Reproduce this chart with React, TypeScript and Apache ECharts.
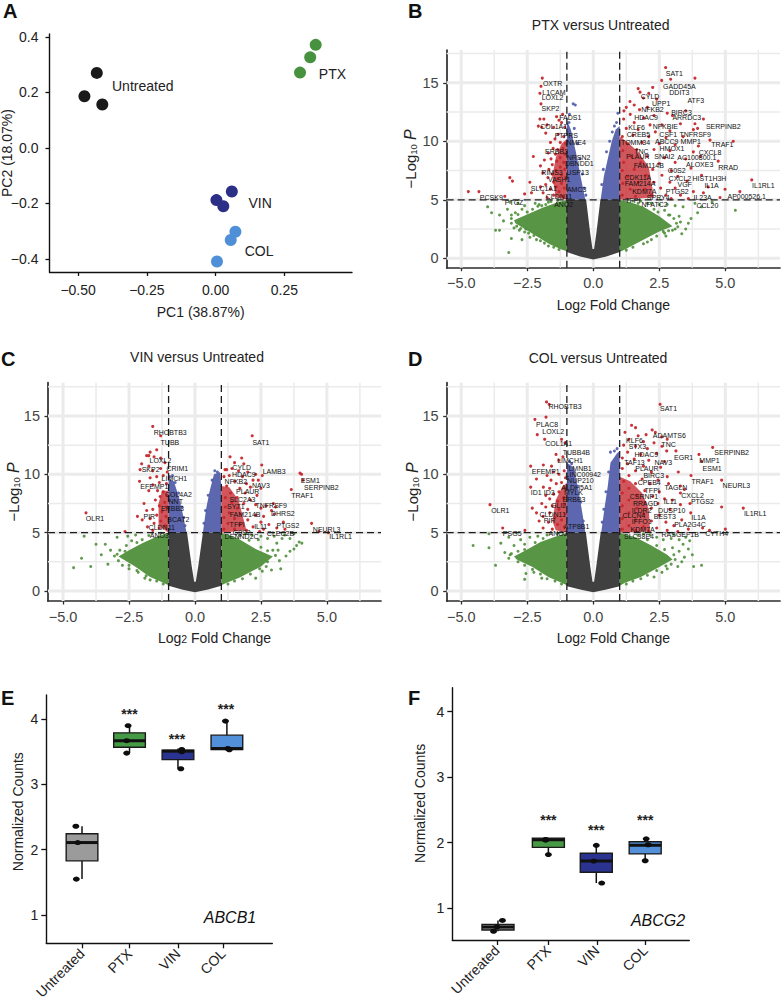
import React, { useEffect, useRef } from "react";
import * as echarts from "echarts";

const FONT = '"Liberation Sans", Arial, sans-serif';
const RED = "#c4282e", BLUE = "#4f5aa8", GREEN = "#4f8f3a", GREY = "#404040";

// ---------- Panel A ----------
const pcaUntreated = [[-0.432,0.270],[-0.477,0.186],[-0.412,0.156]];
const pcaPTX = [[0.364,0.371],[0.344,0.326],[0.307,0.271]];
const pcaVIN = [[0.059,-0.157],[0.003,-0.188],[0.028,-0.210]];
const pcaCOL = [[0.072,-0.302],[0.055,-0.332],[0.005,-0.409]];
const pcaLabels = ["Untreated","PTX","VIN","COL"];
const pcaLabelPos = [[-0.265,0.224],[0.425,0.265],[0.162,-0.2],[0.158,-0.37]];
const pcaXTicks = [-0.5,-0.25,0,0.25];
const pcaYTicks = [-0.4,-0.2,0,0.2,0.4];

// ---------- Volcano shared ----------
const xMajor = [-5,-2.5,0,2.5,5];
const xMinor = [-3.75,-1.25,1.25,3.75,6.25];
const yMajor = [0,5,10,15];
const yMinor = [2.5,7.5,12.5,17.5];

// ---------- Panel B ----------
const bGreyOutline = [[-1,5],[-0.27,5],[-0.12,2.2],[-0.03,0.8],[0.03,0.8],[0.12,2.2],[0.27,5],[1,5],[1,0.55],[0.5,0.15],[0,-0.1],[-0.5,0.15],[-1,0.55]];
const bBlueL = [[-1,5],[-1,11.8],[-0.85,11],[-0.65,9],[-0.48,7],[-0.3,5]];
const bBlueR = [[0.28,5],[0.4,7],[0.55,8.5],[0.7,10],[0.85,11],[1,11.3],[1,5]];
const bGreenL = [[-1,5],[-1.4,4.75],[-1.9,4.35],[-2.4,3.85],[-3,3.25],[-2.95,3.0],[-2.3,2.1],[-1.65,1.2],[-1.2,0.75],[-1,0.6]];
const bGreenR = [[1,5],[1.4,4.8],[1.9,4.4],[2.5,3.6],[3,2.75],[2.5,2.3],[1.77,1.43],[1.14,0.7],[1,0.55]];
const bRedCoreL = [[-1,5],[-1,10.2],[-1.2,9.8],[-1.42,8.6],[-1.55,7],[-1.42,5.2]];
const bRedCoreR = [[1,5],[1,10.4],[1.25,10],[1.7,9.1],[2.1,7.8],[2.2,6.5],[2.3,5.2]];
const bRed = [[-1.93,15.4],[-1.98,14.7],[-2.02,14.1],[-1.98,13.2],[-1.39,12.1],[-1.16,12.3],[-1.3,11.8],[-2.02,11.9],[-1.87,11.9],[-2.08,11.3],[-1.95,11.2],[-1.75,11.4],[-1.5,11.2],[-1.2,11.6],[-1.08,11.2],[-1.8,10.7],[-1.33,10.6],[-1.12,10.4],[-1.45,10.2],[-1.62,9.9],[-1.25,9.9],[-1.05,9.8],[-1.52,9.4],[-1.35,9.3],[-1.15,9.4],[-1.7,9.0],[-1.43,8.9],[-1.08,8.9],[-1.25,8.6],[-1.6,8.5],[-2.27,8.7],[-1.85,8.4],[-1.38,8.3],[-1.12,8.2],[-1.55,8.0],[-2.0,7.9],[-1.25,7.8],[-1.68,7.6],[-1.42,7.5],[-1.08,7.6],[-1.9,7.3],[-1.55,7.2],[-1.2,7.1],[-1.72,6.9],[-1.35,6.8],[-1.05,6.9],[-3.16,6.9],[-3.06,6.6],[-2.4,6.5],[-1.5,6.5],[-1.2,6.4],[-1.8,6.3],[-2.0,6.1],[-1.4,6.1],[-1.1,6.0],[-1.62,5.9],[-2.34,5.6],[-1.3,5.7],[-1.9,5.6],[-4.73,5.7],[-4.33,5.7],[-3.35,5.3],[-2.6,5.5],[-1.5,5.4],[-1.15,5.3],[-1.75,5.2],
[2.74,16.3],[2.93,15.3],[2.59,15.2],[3.85,15.4],[2.25,14.6],[1.7,14.5],[1.77,14.2],[2.1,14.1],[1.9,13.7],[1.39,13.4],[1.55,13.1],[2.4,13.6],[1.25,12.9],[1.16,12.6],[1.75,12.7],[2.05,12.9],[2.3,12.2],[2.8,12.4],[3.0,12.2],[3.5,12.6],[1.4,12.3],[1.9,12.0],[4.17,11.9],[3.3,11.5],[2.6,11.4],[1.15,11.9],[1.55,11.6],[2.15,11.4],[3.85,11.5],[3.79,11],[3.95,11.1],[2.9,10.9],[1.25,11.1],[1.7,11],[2.35,10.8],[4.42,10.1],[5.3,10],[3.4,10.4],[2.75,10.3],[2.1,10.4],[1.5,10.5],[1.1,10.4],[3.98,9.6],[3.1,9.7],[2.5,9.8],[1.85,9.9],[1.3,9.8],[3.79,9.1],[2.9,9.2],[2.3,9.3],[1.65,9.3],[1.12,9.2],[4.05,8.7],[3.5,8.5],[2.7,8.6],[2.05,8.7],[1.45,8.7],[4.73,8.3],[3.1,8.2],[2.5,8.1],[1.8,8.2],[1.15,8.2],[3.7,7.7],[2.95,7.5],[2.25,7.6],[1.55,7.6],[1.1,7.5],[4.1,7.1],[3.2,7.0],[2.6,7.1],[2,7.1],[1.3,7.0],[6,6.7],[3.55,6.6],[2.9,6.5],[2.3,6.5],[1.7,6.5],[1.12,6.4],[4.35,6.1],[3.1,6.0],[2.55,6.0],[1.95,5.9],[1.4,5.9],[4.99,5.9],[5.55,5.7],[4.17,5.6],[3.79,5.7],[3.3,5.4],[2.75,5.4],[2.2,5.4],[1.6,5.3],[1.1,5.4],[3.6,5.1],[2.95,5.1],[4.8,5.2]];
const bBlue = [[-0.76,13.2],[-0.68,13.1],[-0.9,12.3],[-0.92,11.6],[-0.72,11.1],[-0.6,9.8],[-0.5,8.5],[-0.42,7.2],[-0.35,6],[0.88,11.6],[0.8,11.3],[0.72,10.8],[0.62,10],[0.5,9.1],[0.38,7.6],[0.32,6.3],[0.93,12.4],[-0.28,5.4]];
const bGreen = [[-3.7,2.4],[-3.2,0.5],[-3.55,2.4],[-3.1,1.7],[-3.85,3.9],[-3.0,2.6],[-3.4,3.2],[-3.25,4.2],[-2.8,2.4],[-2.7,1.6],[-2.55,2.5],[-2.95,3.9],[-2.6,4.5],[-2.2,4.7],[-2.4,1.8],[-2.15,1.6],[-2.05,4.6],[-1.85,1.3],[-1.7,4.8],[-3.15,4.8],[-2.85,4.7],[-4.0,4.4],[-1.5,0.95],[-1.35,4.95],[-3.55,3.7],[-1.6,4.85],[-1.8,4.6],[-1.95,4.5],[-2.1,4.45],[-2.3,4.2],[-2.5,3.95],[-2.7,4.2],[-2.85,3.75],[-3.1,3.4],[-3.1,3.0],[-2.75,2.55],[-2.45,2.15],[-2.25,1.95],[-2.0,1.5],[-1.7,1.05],[-1.3,0.75],[-3.1,3.7],[-2.6,2.25],[-2.9,2.75],
[3.35,2.1],[5.38,4.1],[2.65,2.3],[2.75,1.9],[3.2,2.7],[3.5,2.5],[3.7,3.4],[3.95,3.9],[4.1,4.4],[3.4,4.4],[3.1,4.5],[2.8,4.6],[2.5,4.6],[2.2,4.7],[3.6,3.0],[3.25,3.6],[2.9,3.7],[1.8,4.9],[4.5,4.8],[3.85,4.7],[2.4,1.9],[2.05,1.4],[1.5,4.9],[1.7,4.7],[2.05,4.7],[2.3,4.2],[2.45,3.95],[2.7,4.1],[2.85,3.7],[3.05,3.4],[3.15,3.0],[3.0,2.4],[2.7,2.15],[2.2,1.6],[1.9,1.25],[1.5,0.95],[1.25,0.7],[3.3,3.1],[2.85,2.35],[3.1,2.5]];
const bGeneNames = ["SAT1","GADD45A","DDIT3","ATF3","CYLD","UPP1","NFKB2","BIRC3","ARRDC3","HDAC9","OXTR","L1CAM","LOXL2","SKP2","FADS1","COL1A1","KLF6","NFKBIE","SERPINB2","CREB5","CSF1","TNFRSF9","PTPRS","NME4","TOMM34","ABCC9","MMP1","TRAF1","HMOX1","TNC","CXCL8","ERBB3","NRSN2","PLAUR","SNAI2","AC100800.1","DBNDD1","ALOXE3","FAM114B","RRAD","USP13","RIMS3","VASH1","G0S2","CDK11A","CXCL2","HIST1H3H","FAM214A","IL1A","IL1RL1","VGF","SLC1A1","AMC3","KDM7A","PTGS2","CLDN11","AP000526.1","PCSK9","IL23A","SPRY4","TFPI","PTGZ","ANO2","NFATC2","CCL20"];
const bGenePos = [[3.07,15.8],[3.26,14.7],[3.26,14.2],[3.88,13.5],[2.15,13.8],[2.57,13.2],[2.24,12.7],[3.34,12.5],[3.54,12],[2,12],[-1.54,14.9],[-1.49,14.2],[-1.54,13.7],[-1.62,12.8],[-0.87,12],[-1.5,11.3],[1.64,11.2],[2.73,11.3],[4.92,11.3],[1.71,10.6],[2.84,10.6],[3.86,10.6],[-1.02,10.5],[-0.65,9.9],[1.6,9.9],[2.78,10],[3.69,10],[4.89,9.7],[2.98,9.4],[1.82,9.1],[4.42,9],[-1.39,9.1],[-0.56,8.6],[1.69,8.7],[2.69,8.7],[3.92,8.6],[-0.53,8.1],[4.03,8],[2.1,7.9],[5.11,7.8],[-0.59,7.3],[-1.56,7.3],[-1.29,6.7],[3.16,7.5],[1.69,6.9],[3.28,6.8],[4.4,6.8],[1.77,6.4],[4.48,6.2],[6.44,6.2],[3.46,6.3],[-1.87,6.0],[-0.63,5.9],[1.93,5.7],[3.18,5.7],[-1.3,5.3],[5.81,5.3],[-3.86,5.17],[4.14,5.17],[2.46,5.17],[1.5,4.9],[-3.0,4.8],[-1.12,4.6],[2.32,4.6],[4.32,4.5]];

// ---------- Panel C ----------
const cGreyOutline = [[-1,5],[-0.3,5],[-0.13,2.2],[-0.03,0.8],[0.03,0.8],[0.13,2.2],[0.3,5],[1,5],[1,0.45],[0.5,0.12],[0,-0.1],[-0.5,0.12],[-1,0.45]];
const cBlueL = [[-1,5],[-1,9.6],[-0.8,9.4],[-0.6,8],[-0.45,6.5],[-0.32,5]];
const cBlueR = [[0.3,5],[0.42,7],[0.55,8.5],[0.72,10],[0.95,10.2],[1,9],[1,5]];
const cGreenL = [[-1,5],[-1.5,4.6],[-2.0,4.1],[-2.5,3.5],[-2.9,2.95],[-2.3,2.15],[-1.7,1.2],[-1.2,0.7],[-1,0.5]];
const cGreenR = [[1,5],[1.6,4.55],[2.3,3.6],[2.95,2.95],[2.5,2.1],[1.7,1.15],[1.2,0.7],[1,0.5]];
const cRedCoreL = [[-1,5],[-1,8.6],[-1.25,8.6],[-1.38,7.5],[-1.38,5.6]];
const cRedCoreR = [[1,5],[1,9],[1.3,8.9],[1.65,7.8],[1.8,6.5],[1.95,5.2]];
const cRed = [[-1.6,14.1],[-1.3,13.3],[-1.7,11.9],[-1.45,12.1],[-1.75,11.6],[-1.83,11.6],[-1.55,11.5],[-1.3,11.4],[-2.02,10.9],[-1.14,11],[-2.08,10.4],[-1.6,10.3],[-1.75,10.7],[-1.3,10.5],[-1.05,10.2],[-1.45,9.8],[-1.2,9.9],[-1.7,9.7],[-2.1,9.4],[-1.35,9.3],[-1.08,9.2],[-1.6,9.1],[-1.42,8.6],[-1.2,8.5],[-1.75,8.6],[-1.05,8.2],[-1.32,8.1],[-1.5,7.8],[-1.15,7.6],[-1.93,7.5],[-1.35,7.3],[-1.08,7.2],[-1.6,7.0],[-1.83,6.9],[-1.25,6.8],[-1.45,6.5],[-1.1,6.4],[-2.18,6.4],[-2,6.1],[-1.7,6.2],[-1.3,6.0],[-1.55,5.8],[-1.12,5.6],[-1.8,5.5],[-1.35,5.4],[-1.6,5.2],[-2.65,5.1],[-4.13,6.7],
[2.17,13.3],[2.53,10.8],[1.33,11.5],[1.77,11.4],[1.14,10.4],[1.2,10.4],[1.5,11],[1.85,10.9],[1.4,10.5],[1.65,10.3],[2,10.2],[2.3,10],[2.55,9.9],[1.1,9.8],[1.3,9.9],[1.8,9.8],[2.2,9.5],[2.4,9.5],[1.5,9.4],[1.95,9.2],[2.1,8.9],[2.5,8.8],[1.2,9],[1.7,8.8],[1.35,8.4],[1.9,8.4],[2.35,8.2],[1.15,8],[1.6,8.0],[2.1,7.8],[2.7,7.3],[2.97,7.5],[3.05,7.2],[1.4,7.6],[1.85,7.5],[2.3,7.4],[2.5,7.1],[1.15,7.2],[1.6,7.1],[2,7],[2.9,6.9],[3,6.6],[1.3,6.7],[1.75,6.6],[2.3,6.5],[2.6,6.4],[1.1,6.3],[1.5,6.2],[2,6.1],[2.5,5.9],[2.8,5.7],[3.35,5.9],[1.25,5.8],[1.7,5.7],[2.2,5.5],[2.6,5.3],[3.1,5.4],[3.41,5.3],[1.1,5.3],[1.5,5.3],[1.95,5.2],[2.45,5.1],[3.65,8.7],[3.98,10.1],[4.04,10],[4.1,9.5],[4.42,5.8],[5.05,5],[4.7,5.1]];
const cBlue = [[-0.85,9.9],[-0.95,9.8],[-0.75,9.3],[-0.62,8.4],[-0.5,7.2],[-0.42,6.3],[-0.38,5.6],[0.75,10.3],[0.85,10.2],[0.65,9.5],[0.5,8.2],[0.4,6.9],[0.34,5.8]];
const cGreen = [[-4.6,2.0],[-4.3,2.8],[-3.95,2.1],[-3.55,3.1],[-3.4,4.0],[-3.75,4.0],[-4.2,4.7],[-3.2,3.5],[-3.05,3.0],[-2.85,3.5],[-3.3,2.3],[-2.75,2.2],[-2.5,1.9],[-2.95,4.6],[-2.55,4.7],[-2.25,4.8],[-2.15,1.6],[-2.4,4.3],[-2.6,3.9],[-1.9,1.1],[-1.7,0.95],[-1.75,4.75],[-1.3,4.95],[-2.9,2.6],[-2.0,4.4],[-2.2,4.15],[-2.65,3.4],[-2.95,3.15],[-2.5,2.2],[-2.2,1.75],[-1.85,1.3],[-1.45,0.85],[-1.2,0.6],
[2.3,1.1],[2.55,1.7],[2.7,2.1],[2.9,1.8],[3.2,2.6],[3.25,1.9],[3.45,3.0],[3.15,3.5],[3.6,3.4],[3.75,3.6],[3.85,3.9],[3.95,4.2],[3.6,4.5],[3.3,4.5],[3.1,4.1],[3.4,4.8],[3.0,4.7],[2.75,4.5],[2.5,4.7],[4.05,4.1],[2.4,4.4],[2.15,4.8],[3.75,4.9],[1.9,4.9],[1.7,4.75],[2.05,4.35],[2.5,3.75],[2.75,3.45],[3.05,3.05],[2.75,2.5],[2.45,1.9],[2.1,1.45],[1.8,1.05],[1.5,0.85],[1.25,0.6],[2.95,3.5]];
const cGeneNames = ["RHOBTB3","TUBB","SAT1","LOXL2","SKP2","CRIM1","CYLD","LAMB3","HDAC9","LIMCH1","ESM1","NFKB2","NAV3","SERPINB2","EFEMP1","PLAUR","COL4A2","TRAF1","NNT","SLC2A3","SYT1","TNFRSF9","ERBB3","FAM214B","DHRS2","OLR1","PIR","BCAT2","TFPI","PTGS2","IL11","CLDN11","NEURL3","G0S2","CLEC2B","ANO3","DENND2C","IL1RL1"];
const cGenePos = [[-0.94,13.6],[-0.95,12.7],[2.5,12.7],[-1.31,11.2],[-1.68,10.4],[-0.67,10.5],[1.77,10.6],[3,10.25],[1.85,10],[-0.78,9.65],[4.37,9.5],[1.55,9.4],[2.5,9],[4.79,8.85],[-1.54,8.97],[2,8.5],[-0.63,8.3],[4.07,8.2],[-0.73,7.7],[1.8,7.85],[1.55,7.25],[2.89,7.3],[-0.85,7.05],[1.9,6.55],[3.33,6.63],[-3.79,6.23],[-1.73,6.35],[-0.63,6.1],[1.6,5.66],[3.52,5.63],[2.49,5.5],[-1.26,5.43],[4.99,5.29],[1.77,5.0],[3.24,4.94],[-1.35,4.77],[1.77,4.66],[5.52,4.63]];

// ---------- Panel D ----------
const dGreyOutline = [[-1,5],[-0.28,5],[-0.12,2.2],[-0.03,0.8],[0.03,0.8],[0.12,2.2],[0.28,5],[1,5],[1,0.4],[0.5,0.12],[0,-0.1],[-0.5,0.12],[-1,0.4]];
const dBlueL = [[-1,5],[-1,11],[-0.75,10.6],[-0.55,8.5],[-0.4,6.5],[-0.3,5]];
const dBlueR = [[0.3,5],[0.45,7.5],[0.55,9],[0.65,11],[0.9,11.8],[1,12],[1,5]];
const dGreenL = [[-1,5],[-1.5,4.6],[-2.0,4.2],[-2.5,3.55],[-3,2.95],[-2.9,2.7],[-2.3,2.05],[-1.7,1.2],[-1.2,0.7],[-1,0.5]];
const dGreenR = [[1,5],[1.6,4.6],[2.2,3.9],[2.8,3.1],[3.0,2.7],[2.5,2.05],[1.8,1.2],[1.2,0.7],[1,0.45]];
const dRedCoreL = [[-1,5],[-1,9.3],[-1.18,8.9],[-1.42,7.8],[-1.55,6],[-1.42,5.2]];
const dRedCoreR = [[1,5],[1,9.8],[1.4,9.4],[1.85,8.4],[2.1,7],[2.15,5.1]];
const dRed = [[-1.77,16.2],[-1.67,16],[-2.21,14.7],[-1.79,14.9],[-2.12,13.4],[-1.84,13],[-1.2,13],[-1.07,12.7],[-1.41,11.7],[-2.37,10.7],[-1.89,10.8],[-1.58,10.7],[-1.3,11.2],[-1.15,11.5],[-1.5,10.2],[-1.1,10.3],[-1.75,9.9],[-1.3,10],[-2.15,9.6],[-1.6,9.5],[-1.05,9.7],[-1.4,9.2],[-1.2,9.3],[-2.37,8.9],[-1.89,8.9],[-1.65,8.8],[-1.08,8.8],[-1.3,8.5],[-1.5,8.3],[-1.8,8.2],[-1.12,8],[-1.65,7.9],[-1.35,7.7],[-1.95,7.5],[-1.1,7.4],[-1.55,7.3],[-2.31,7.1],[-1.8,7.2],[-1.3,7],[-2.15,6.7],[-1.65,6.7],[-1.05,6.6],[-1.9,6.4],[-1.45,6.3],[-1.2,6.1],[-2.05,6],[-1.7,5.9],[-1.35,5.7],[-1.1,5.5],[-1.9,5.4],[-1.55,5.3],[-3.91,7.4],[-3.43,5.4],[-2.59,5.2],
[2.53,16],[1.45,14.2],[2.23,13.8],[2.59,13.2],[1.6,14],[1.2,13.6],[1.7,13.3],[2,13.4],[2.35,13.6],[2.8,13],[1.35,13],[1.9,12.8],[2.3,12.7],[1.15,12.5],[1.6,12.4],[2.6,12.4],[2.05,12.2],[4.52,12.3],[2.78,12],[3.13,12],[1.3,11.9],[1.8,11.7],[2.4,11.8],[4,11.7],[1.1,11.4],[1.55,11.3],[2.1,11.2],[2.7,11.1],[4.1,11.1],[1.3,10.9],[1.9,10.7],[2.55,10.6],[3.22,10.2],[1.1,10.5],[1.6,10.3],[2.2,10.2],[2.8,9.8],[3.7,9.9],[1.35,9.9],[1.85,9.6],[2.45,9.5],[4.86,9.5],[1.15,9.4],[1.6,9.2],[2.15,9.2],[2.85,9.2],[3.3,9],[3.45,8.7],[1.35,8.8],[1.95,8.6],[2.5,8.5],[3.3,8.4],[1.1,8.4],[1.65,8.2],[2.25,8.1],[2.7,7.9],[3.0,7.8],[1.35,7.8],[1.95,7.6],[2.45,7.5],[3.66,7.5],[3.3,7.4],[1.1,7.3],[1.65,7.1],[2.2,7.1],[2.9,7],[4.86,7.2],[5.68,7.1],[1.35,6.7],[1.9,6.6],[2.5,6.5],[3.69,6.7],[3.35,6.1],[1.1,6.2],[1.6,6.1],[2.2,6],[2.75,5.9],[3.05,5.6],[1.35,5.6],[1.9,5.5],[2.4,5.4],[4.14,5.4],[5,5.3],[1.1,5.3],[1.6,5.2],[2.1,5.1],[2.8,5.2],[3.6,5.3],[4.4,5.2],[3.2,5.1]];
const dBlue = [[-0.82,10.9],[-0.9,11.1],[-0.72,10.2],[-0.6,9],[-0.48,7.6],[-0.38,6],[-0.95,10.7],[0.65,11.9],[0.8,12],[0.9,12.2],[0.58,10.2],[0.48,8.5],[0.4,7],[0.34,5.9]];
const dGreen = [[-4.55,3.9],[-3.95,4.9],[-3.7,2.2],[-3.95,3.7],[-3.35,3.3],[-3.5,4.1],[-3.15,3.1],[-3.0,3.9],[-2.85,3.4],[-2.6,1.0],[-2.85,2.5],[-2.55,1.5],[-2.75,4.4],[-2.4,4.6],[-2.1,4.7],[-2.25,1.6],[-1.95,1.1],[-1.75,4.8],[-3.2,4.6],[-1.35,4.95],[-2.6,4.0],[-3.2,2.8],[-1.9,4.5],[-2.2,4.15],[-2.6,3.55],[-3.1,3.2],[-2.6,2.2],[-2.3,1.85],[-2.0,1.45],[-1.75,1.05],[-1.45,0.85],[-1.2,0.6],
[2.3,1.2],[2.6,1.6],[2.8,1.9],[2.95,2.3],[3.2,2.1],[3.35,2.5],[4.1,2.2],[3.8,2.1],[3.45,2.9],[3.25,3.4],[3.6,3.6],[3.4,4.0],[3.65,4.3],[3.25,4.4],[2.95,4.5],[2.65,4.4],[2.4,4.6],[2.15,4.8],[3.0,3.7],[3.5,4.6],[3.05,4.85],[1.9,4.9],[3.75,3.1],[1.7,4.75],[2.05,4.4],[2.4,3.9],[2.7,3.55],[3.05,3.1],[3.1,2.7],[2.75,2.15],[2.4,1.75],[2.05,1.35],[1.8,1.05],[1.5,0.85],[1.25,0.6]];
const dGeneNames = ["SAT1","RHOBTB3","PLAC8","LOXL2","ADAMTS6","KLF6","TNC","COL1A1","STX3","SERPINB2","TUBB4B","HDAC9","EGR1","MMP1","LIMCH1","TAF13","NAV3","LMNB1","ESM1","PLAUR","EFEMP1","LINC00942","BIRC3","NUP210","TRAF1","CPEB4","NEURL3","TAGLN","ALDH5A1","TFPI","ID1","ID3","MYLK","CXCL2","CSRNP1","ERBB3","IL11","PTGS2","RRAGD","GLI2","ILDR2","DUSP10","OLR1","CLCN4","BEST3","CLDN11","IL1A","IL1RL1","PIR","IFFO1","PLA2G4C","ATP8B1","KDM7A","RASGEF1B","CYTH4","PSG5","ANO2","SLC38E4"];
const dGenePos = [[2.85,15.6],[-1.07,15.77],[-1.75,14.23],[-1.52,13.66],[2.88,13.29],[1.56,12.89],[2.85,12.57],[-1.31,12.63],[1.67,12.37],[5.24,11.83],[-0.64,11.83],[2.01,11.69],[3.42,11.46],[4.4,11.2],[-0.88,11.2],[1.56,11],[2.65,11.03],[-0.5,10.54],[4.5,10.49],[2.03,10.46],[-1.8,10.26],[-0.38,9.97],[2.29,9.89],[-0.49,9.43],[4.14,9.37],[2.12,9.31],[5.42,9.0],[3.13,8.89],[-0.62,8.89],[2.23,8.63],[-2.16,8.43],[-1.67,8.43],[-0.75,8.43],[3.76,8.17],[1.92,8.06],[-0.73,7.8],[2.92,7.66],[4.13,7.63],[1.98,7.46],[-1.31,7.34],[1.83,6.91],[2.97,6.89],[-3.52,6.86],[1.54,6.46],[2.71,6.37],[-1.54,6.54],[3.98,6.26],[6.13,6.6],[-1.65,6.0],[1.83,5.97],[3.66,5.66],[-0.63,5.51],[1.87,5.23],[3.29,4.86],[4.67,4.97],[-3.07,4.97],[-1.33,4.94],[1.73,4.66]];

// ---------- Panels E, F ----------
const boxCategories = ["Untreated","PTX","VIN","COL"];
const boxColors = ["#9b9b9b","#479a45","#2a3390","#5291da"];
// position, whisker low, q1, median, q3, whisker high
const eBoxes = [[1,1.55,1.83,2.11,2.245,2.36],[2,3.48,3.57,3.67,3.79,3.90],[3.02,3.24,3.38,3.51,3.525,3.55],[4.05,3.53,3.535,3.55,3.755,3.97]];
const ePoints = [[0.87,2.36],[0.91,2.11],[0.88,1.55],[1.97,3.90],[1.94,3.67],[1.94,3.48],[3.1,3.535],[3.1,3.50],[3.08,3.24],[4.02,3.97],[4.07,3.55],[4.1,3.53]];
const eTicks = [1,2,3.02,3.97];
const eStars = [[2,4.08],[3,3.70],[4.03,4.15]];
const fBoxes = [[1.02,0.65,0.668,0.715,0.755,0.815],[2.04,1.82,1.93,2.045,2.07,2.07],[3.01,1.385,1.55,1.72,1.84,1.97],[4,1.725,1.83,1.96,2.015,2.07]];
const fPoints = [[1.11,0.815],[0.93,0.65],[1,0.715],[1.985,2.05],[2.04,1.82],[1.985,2.04],[3.01,1.96],[2.96,1.72],[3.12,1.385],[4.02,2.06],[4.06,1.97],[4,1.725]];
const fTicks = [1,2.04,3.02,4];
const fStars = [[2.04,2.34],[3.01,2.19],[4,2.34]];

const signed = (v: number, d: number) => (v < 0 ? "\u2212" : "") + Math.abs(v).toFixed(d);

function makeAxis(kind: string, gridIndex: number, min: number, max: number, ticks: number[], fmt: (v: number) => string, o: any = {}) {
  return {
    type: "value", gridIndex, min, max, scale: true,
    axisLine: { show: true, onZero: false, lineStyle: { color: o.color || "#111", width: o.lineWidth || 1.4 } },
    axisTick: { show: true, customValues: ticks, length: o.tickLength || 4, lineStyle: { color: o.color || "#111", width: 1.3 } },
    axisLabel: { show: true, customValues: ticks, formatter: fmt, fontSize: o.fontSize || 14, color: o.labelColor || "#222", margin: o.margin ?? 7, rotate: o.rotate || 0, fontFamily: FONT, hideOverlap: false, showMinLabel: true, showMaxLabel: true },
    splitLine: { show: false }, minorTick: { show: false },
    name: o.name, nameLocation: "middle", nameGap: o.nameGap, nameMoveOverlap: false,
    nameTextStyle: { fontSize: o.nameSize || 14, color: "#222", fontFamily: FONT, padding: o.namePadding || 0, rich: o.rich },
  };
}

function polygonSeries(idx: number, pts: number[][], fill: string, opacity: number, z: number) {
  return {
    type: "custom", coordinateSystem: "cartesian2d", xAxisIndex: idx, yAxisIndex: idx, silent: true, z,
    data: pts, encode: { x: 0, y: 1 },
    renderItem: (p: any, api: any) => p.dataIndex !== 0 ? null : ({
      type: "polygon", shape: { points: pts.map((q) => api.coord(q)) }, style: { fill, opacity },
    }),
  };
}

function lineSeries(idx: number, axis: "x" | "y", values: number[], lo: number, hi: number, style: any, z: number) {
  return {
    type: "custom", coordinateSystem: "cartesian2d", xAxisIndex: idx, yAxisIndex: idx, silent: true, z,
    data: values.map((v) => (axis === "x" ? [v, lo] : [lo, v])), encode: { x: 0, y: 1 },
    renderItem: (p: any, api: any) => {
      const v = values[p.dataIndex];
      const a = api.coord(axis === "x" ? [v, lo] : [lo, v]);
      const b = api.coord(axis === "x" ? [v, hi] : [hi, v]);
      return { type: "line", shape: { x1: a[0], y1: a[1], x2: b[0], y2: b[1] }, style: { fill: null, ...style } };
    },
  };
}

function textSeries(idx: number, pos: number[][], names: string[], font: string, fill: string, z: number) {
  return {
    type: "custom", coordinateSystem: "cartesian2d", xAxisIndex: idx, yAxisIndex: idx, silent: true, z,
    data: pos, encode: { x: 0, y: 1 },
    renderItem: (p: any, api: any) => {
      const c = api.coord(pos[p.dataIndex]);
      return { type: "text", x: c[0], y: c[1], style: { text: names[p.dataIndex], font, fill, align: "center", verticalAlign: "middle" } };
    },
  };
}

const pts = (idx: number, data: number[][], color: string, size: any, z: number, opacity = 1) => ({
  type: "scatter", xAxisIndex: idx, yAxisIndex: idx, data, symbolSize: size, silent: true, z,
  itemStyle: { color, opacity },
});

function volcano(idx: number, xr: number[], yr: number[], d: any) {
  const gridStyle = (w: number) => ({ stroke: "#ebebeb", lineWidth: w });
  const dash = { stroke: "#1c1c1c", lineWidth: 1.3, lineDash: [7, 4] };
  return [
    lineSeries(idx, "x", xMinor, yr[0], yr[1], gridStyle(1.5), 1),
    lineSeries(idx, "y", yMinor, xr[0], xr[1], gridStyle(1.5), 1),
    lineSeries(idx, "x", xMajor, yr[0], yr[1], gridStyle(3), 1),
    lineSeries(idx, "y", yMajor, xr[0], xr[1], gridStyle(3), 1),
    polygonSeries(idx, d.greenL, GREEN, 0.95, 2),
    polygonSeries(idx, d.greenR, GREEN, 0.95, 2),
    polygonSeries(idx, d.blueL, BLUE, 0.92, 2),
    polygonSeries(idx, d.blueR, BLUE, 0.92, 2),
    polygonSeries(idx, d.redL, RED, 0.78, 2),
    polygonSeries(idx, d.redR, RED, 0.78, 2),
    polygonSeries(idx, d.grey, GREY, 1, 3),
    pts(idx, d.green, GREEN, 3, 4, 0.9),
    pts(idx, d.blue, BLUE, 3, 4, 0.9),
    pts(idx, d.red, RED, 3.1, 4, 0.95),
    lineSeries(idx, "x", [-1, 1], yr[0], yr[1], dash, 5),
    lineSeries(idx, "y", [5], xr[0], xr[1], dash, 5),
    textSeries(idx, d.genePos, d.genes, `7px ${FONT}`, "#111", 6),
  ];
}

const yRich = { s: { fontSize: 9.5, padding: [6, 0, 0, 0], color: "#222", fontFamily: FONT }, i: { fontSize: 16, fontStyle: "italic", color: "#222", fontFamily: FONT } };
const xRich = { s: { fontSize: 10.5, padding: [2, 0, 0, 0], color: "#222", fontFamily: FONT } };

function volcanoAxes(idx: number, xr: number[], yr: number[], yGap: number) {
  const common = { color: "#2b2b2b", lineWidth: 1.7, fontSize: 14.5, labelColor: "#444", tickLength: 3.5, margin: 8 };
  return {
    x: makeAxis("x", idx, xr[0], xr[1], xMajor, (v) => signed(v, 1), { ...common, name: "Log{s|2} Fold Change", nameGap: 30, nameSize: 14, rich: xRich }),
    y: makeAxis("y", idx, yr[0], yr[1], yMajor, (v) => String(v), { ...common, name: "\u2212Log{s|10} {i|P}", nameGap: yGap, nameSize: 15, rich: yRich }),
  };
}

function boxSeries(idx: number, boxes: number[][], width: number) {
  return {
    type: "custom", coordinateSystem: "cartesian2d", xAxisIndex: idx, yAxisIndex: idx, silent: true, z: 3,
    data: boxes, encode: { x: 0, y: [1, 5] },
    renderItem: (p: any, api: any) => {
      const b = boxes[p.dataIndex];
      const c = (v: number) => api.coord([b[0], v]);
      const half = api.size([width, 0])[0] / 2;
      const [cx] = c(b[3]);
      const line = (a: number, e: number, w: number, x1 = cx, x2 = cx) => ({
        type: "line", shape: { x1, y1: c(a)[1], x2, y2: c(e)[1] }, style: { stroke: "#111", lineWidth: w },
      });
      return {
        type: "group",
        children: [
          line(b[1], b[2], 1.5),
          line(b[4], b[5], 1.5),
          { type: "rect", shape: { x: cx - half, y: c(b[4])[1], width: 2 * half, height: c(b[2])[1] - c(b[4])[1] }, style: { fill: boxColors[p.dataIndex], stroke: "#1a1a1a", lineWidth: 1.4 } },
          line(b[3], b[3], 3, cx - half, cx + half),
        ],
      };
    },
  };
}

const panelLetters = [["A",3,11],["B",408,11],["C",1,359],["D",408,359],["E",1,698],["F",408,698]] as const;
const panelTitles = [["PTX versus Untreated",600.7,25],["VIN versus Untreated",197,357],["COL versus Untreated",598,358]] as const;
const geneTitles = [["ABCB1",230,917],["ABCG2",658,920]] as const;

export default function App() {
  const ref = useRef<HTMLDivElement>(null);
  useEffect(() => {
    const chart = echarts.init(ref.current!, undefined, { renderer: "svg" });
    const rB = { x: [-5.55, 7.07], y: [-0.8, 17.8] };
    const rC = { x: [-5.57, 7.05], y: [-0.857, 17.85] };
    const rD = { x: [-5.55, 7.07], y: [-0.857, 17.85] };
    const aB = volcanoAxes(1, rB.x, rB.y, 28);
    const aC = volcanoAxes(2, rC.x, rC.y, 26.5);
    const aD = volcanoAxes(3, rD.x, rD.y, 26.5);
    const boxOpts = { lineWidth: 1.4, fontSize: 14, tickLength: 5, margin: 8 };
    const catFmt = (v: number) => boxCategories[Math.round(v) - 1] ?? "";
    const intFmt = (v: number) => String(v);

    const option: any = {
      animation: false,
      backgroundColor: "#fff",
      textStyle: { fontFamily: FONT },
      grid: [
        { left: 49.5, top: 34, width: 302.5, height: 238, outerBoundsMode: "none" },
        { left: 446.7, top: 50, width: 333.3, height: 217.7, outerBoundsMode: "none" },
        { left: 48, top: 382.7, width: 333, height: 218.3, outerBoundsMode: "none" },
        { left: 446.7, top: 382.7, width: 333.3, height: 218.3, outerBoundsMode: "none" },
        { left: 46.3, top: 695, width: 226, height: 248.3, outerBoundsMode: "none" },
        { left: 452.3, top: 687.7, width: 237, height: 252.3, outerBoundsMode: "none" },
      ],
      xAxis: [
        makeAxis("x", 0, -0.604, 0.496, pcaXTicks, (v) => signed(v, 2), { name: "PC1 (38.87%)", nameGap: 33, margin: 11 }),
        aB.x, aC.x, aD.x,
        makeAxis("x", 4, 0.248, 5.006, eTicks, catFmt, { ...boxOpts, rotate: 45 }),
        makeAxis("x", 5, 0.095, 4.893, fTicks, catFmt, { ...boxOpts, rotate: 45 }),
      ],
      yAxis: [
        makeAxis("y", 0, -0.447, 0.41, pcaYTicks, (v) => signed(v, 1), { name: "PC2 (18.07%)", nameGap: 35.5, margin: 11 }),
        aB.y, aC.y, aD.y,
        makeAxis("y", 4, 0.567, 4.37, [1, 2, 3, 4], intFmt, { ...boxOpts, name: "Normalized Counts", nameGap: 21, namePadding: [0, 0, 0, 15] }),
        makeAxis("y", 5, 0.516, 4.366, [1, 2, 3, 4], intFmt, { ...boxOpts, name: "Normalized Counts", nameGap: 25, namePadding: [0, 0, 0, 21] }),
      ],
      series: [
        pts(0, pcaUntreated, "#1a1a1a", 12, 3),
        pts(0, pcaPTX, "#46923f", 12, 3),
        pts(0, pcaVIN, "#2b2f87", 12, 3),
        pts(0, pcaCOL, "#4f8fd8", 12, 3),
        textSeries(0, pcaLabelPos, pcaLabels, `14px ${FONT}`, "#222", 4),
        ...volcano(1, rB.x, rB.y, { grey: bGreyOutline, blueL: bBlueL, blueR: bBlueR, greenL: bGreenL, greenR: bGreenR, redL: bRedCoreL, redR: bRedCoreR, red: bRed, blue: bBlue, green: bGreen, genes: bGeneNames, genePos: bGenePos }),
        ...volcano(2, rC.x, rC.y, { grey: cGreyOutline, blueL: cBlueL, blueR: cBlueR, greenL: cGreenL, greenR: cGreenR, redL: cRedCoreL, redR: cRedCoreR, red: cRed, blue: cBlue, green: cGreen, genes: cGeneNames, genePos: cGenePos }),
        ...volcano(3, rD.x, rD.y, { grey: dGreyOutline, blueL: dBlueL, blueR: dBlueR, greenL: dGreenL, greenR: dGreenR, redL: dRedCoreL, redR: dRedCoreR, red: dRed, blue: dBlue, green: dGreen, genes: dGeneNames, genePos: dGenePos }),
        boxSeries(4, eBoxes, 0.667),
        pts(4, ePoints, "#0d0d0d", [7, 5], 4),
        textSeries(4, eStars, ["***","***","***"], `bold 14px ${FONT}`, "#222", 5),
        boxSeries(5, fBoxes, 0.648),
        pts(5, fPoints, "#0d0d0d", [7, 5], 4),
        textSeries(5, fStars, ["***","***","***"], `bold 14px ${FONT}`, "#222", 5),
      ],
      graphic: [
        ...panelLetters.map(([t, x, y]) => ({ type: "text", x, y, style: { text: t, font: `bold 20px ${FONT}`, fill: "#111", align: "left", verticalAlign: "middle" } })),
        ...panelTitles.map(([t, x, y]) => ({ type: "text", x, y, style: { text: t, font: `14px ${FONT}`, fill: "#222", align: "center", verticalAlign: "middle" } })),
        ...geneTitles.map(([t, x, y]) => ({ type: "text", x, y, style: { text: t, font: `italic 16px ${FONT}`, fill: "#111", align: "center", verticalAlign: "middle" } })),
      ],
    };
    chart.setOption(option);
    return () => chart.dispose();
  }, []);
  return <div ref={ref} style={{ position: "absolute", left: 0, top: 0, width: 784, height: 1000 }} />;
}
